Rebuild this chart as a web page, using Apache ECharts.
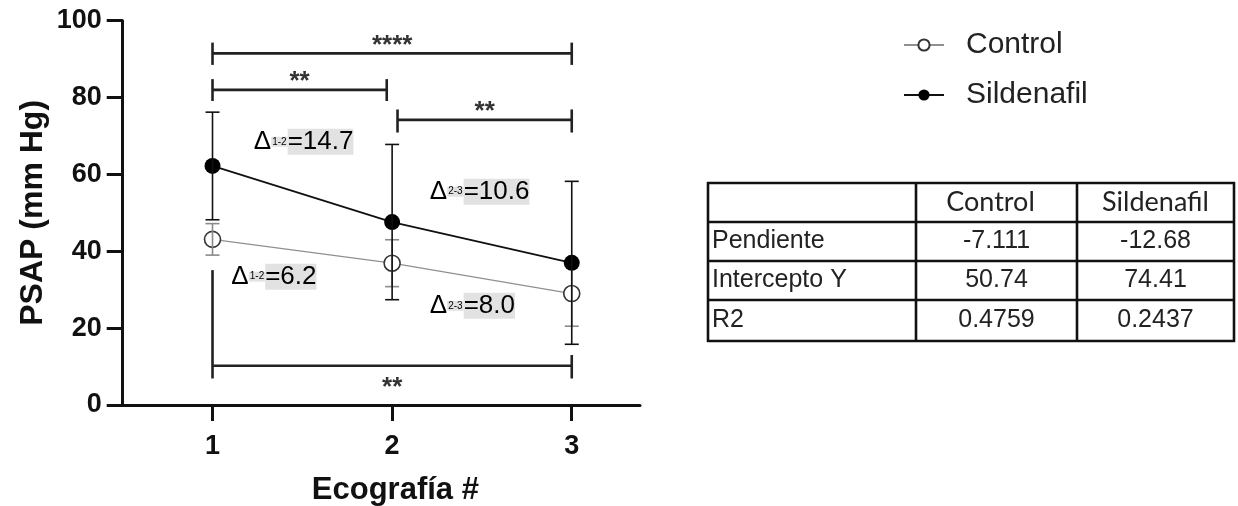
<!DOCTYPE html>
<html>
<head>
<meta charset="utf-8">
<script src="https://cdn.jsdelivr.net/npm/echarts@6/dist/echarts.min.js"></script>
<style>html,body{margin:0;padding:0;background:#fff;}#chart{width:1238px;height:506px;}</style>
</head>
<body>
<div id="chart"></div>
<script>
// ---- data ----
const visits = [1, 2, 3];
const xTickLabels = ['1', '2', '3'];
const yTicks = [0, 20, 40, 60, 80, 100];
const controlMean = [43.1, 36.9, 29.0];
const controlSD = [4.1, 6.1, 8.5];
const sildenafilMean = [62.2, 47.6, 37.0];
const sildenafilSD = [14.0, 20.2, 21.2];

// significance brackets (data units)
const bracketLabels = ['****', '**', '**', '**'];
const bracketFrom = [1, 1, 2.03, 1];
const bracketTo = [3, 1.97, 3, 3];
const bracketLevel = [91.5, 82.0, 74.2, 10.2];
const bracketLeftSpan = [[94.3, 88.5], [84.8, 79.1], [76.9, 70.9], [35.1, 6.9]];
const bracketRightSpan = [[94.3, 88.5], [84.8, 79.1], [76.9, 70.9], [13.0, 6.9]];

// delta annotations
const deltaSubs = ['1-2', '2-3', '1-2', '2-3'];
const deltaValues = ['14.7', '10.6', '6.2', '8.0'];
const deltaAnchorX = [1.23, 2.21, 1.105, 2.21];
const deltaAnchorY = [68.5, 55.5, 33.4, 25.8];

// regression table
const tableHeader = ['', 'Control', 'Sildenafil'];
const tableRowNames = ['Pendiente', 'Intercepto Y', 'R2'];
const tableControl = ['-7.111', '50.74', '0.4759'];
const tableSildenafil = ['-12.68', '74.41', '0.2437'];

// ---- chart ----
const FONT = 'Liberation Sans';
const chart = echarts.init(document.getElementById('chart'), null, {renderer: 'canvas'});

function errorBars(name, means, sds, color, z) {
  return {
    type: 'custom', name: name + ' SD', z: z, silent: true,
    data: visits.map((x, i) => [x, means[i] - sds[i], means[i] + sds[i]]),
    renderItem: function (params, api) {
      const lo = api.coord([api.value(0), api.value(1)]);
      const hi = api.coord([api.value(0), api.value(2)]);
      const w = 7;
      const st = {stroke: color, lineWidth: 1.6};
      return {type: 'group', children: [
        {type: 'line', shape: {x1: lo[0], y1: lo[1], x2: hi[0], y2: hi[1]}, style: st},
        {type: 'line', shape: {x1: lo[0] - w, y1: lo[1], x2: lo[0] + w, y2: lo[1]}, style: st},
        {type: 'line', shape: {x1: hi[0] - w, y1: hi[1], x2: hi[0] + w, y2: hi[1]}, style: st}
      ]};
    }
  };
}

const bracketData = bracketLabels.map((l, i) => [bracketFrom[i], bracketTo[i], bracketLevel[i],
  bracketLeftSpan[i][0], bracketLeftSpan[i][1], bracketRightSpan[i][0], bracketRightSpan[i][1], i]);

const deltaData = deltaSubs.map((s, i) => [deltaAnchorX[i], deltaAnchorY[i], i]);

// table graphic
const colX = [708, 916, 1077, 1234];
const rowY = [183, 222, 261, 300, 341];
const tableEls = [];
colX.forEach(x => tableEls.push({type: 'line', shape: {x1: x, y1: rowY[0] - 1, x2: x, y2: rowY[rowY.length - 1] + 1}, style: {stroke: '#111', lineWidth: 2.6}}));
rowY.forEach(y => tableEls.push({type: 'line', shape: {x1: colX[0] - 1, y1: y, x2: colX[colX.length - 1] + 1, y2: y}, style: {stroke: '#111', lineWidth: 2.6}}));
tableHeader.forEach((h, c) => {
  if (!h) return;
  tableEls.push({type: 'text', x: (colX[c] + colX[c + 1]) / 2 - (c === 1 ? 6 : 0), y: (rowY[0] + rowY[1]) / 2,
    style: {text: h, font: '27px Lato', fill: '#222', align: 'center', verticalAlign: 'middle'}});
});
tableRowNames.forEach((r, i) => {
  const cy = (rowY[i + 1] + rowY[i + 2]) / 2;
  tableEls.push({type: 'text', x: colX[0] + 4, y: cy, style: {text: r, font: '25px ' + FONT, fill: '#222', align: 'left', verticalAlign: 'middle'}});
  tableEls.push({type: 'text', x: (colX[1] + colX[2]) / 2, y: cy, style: {text: tableControl[i], font: '25px ' + FONT, fill: '#222', align: 'center', verticalAlign: 'middle'}});
  tableEls.push({type: 'text', x: (colX[2] + colX[3]) / 2, y: cy, style: {text: tableSildenafil[i], font: '25px ' + FONT, fill: '#222', align: 'center', verticalAlign: 'middle'}});
});

const option = {
  backgroundColor: '#fff',
  animation: false,
  textStyle: {fontFamily: FONT},
  legend: {
    orient: 'vertical', left: 898, top: 25, itemWidth: 40, itemHeight: 14, itemGap: 20,
    data: ['Control', 'Sildenafil'],
    textStyle: {fontSize: 30, fontFamily: FONT, color: '#222', lineHeight: 30, padding: [0, 0, 0, 17]}
  },
  grid: {left: 122.7, top: 20.7, right: 598, bottom: 101, containLabel: false, outerBoundsMode: 'none'},
  xAxis: {
    type: 'value', min: 0.5, max: 3.38,
    name: 'Ecografía #', nameLocation: 'middle', nameGap: 70,
    nameTextStyle: {fontSize: 31, fontWeight: 'bold', color: '#111', fontFamily: FONT, padding: [0, 0, 0, 28]},
    axisLine: {show: true, lineStyle: {color: '#111', width: 3}},
    axisTick: {show: true, customValues: visits, length: 16, lineStyle: {color: '#111', width: 3}},
    axisLabel: {customValues: visits, formatter: v => xTickLabels[visits.indexOf(v)], fontSize: 27, fontWeight: 'bold', color: '#111', margin: 28, fontFamily: FONT},
    splitLine: {show: false}
  },
  yAxis: {
    type: 'value', min: 0, max: 100, interval: 20,
    name: 'PSAP (mm Hg)', nameLocation: 'middle', nameGap: 74, nameRotate: 90,
    nameTextStyle: {fontSize: 32, fontWeight: 'bold', color: '#111', fontFamily: FONT},
    axisLine: {show: true, lineStyle: {color: '#111', width: 3}},
    axisTick: {show: true, length: 16, lineStyle: {color: '#111', width: 3}},
    axisLabel: {fontSize: 27, fontWeight: 'bold', color: '#111', margin: 21, fontFamily: FONT,
      formatter: v => (yTicks.indexOf(v) >= 0 ? String(v) : '')},
    splitLine: {show: false}
  },
  series: [
    {
      name: 'Control', type: 'line', z: 2,
      data: visits.map((x, i) => [x, controlMean[i]]),
      symbol: 'circle', symbolSize: 16,
      lineStyle: {color: '#909090', width: 1.2},
      itemStyle: {color: '#fff', borderColor: '#333', borderWidth: 1.6}
    },
    errorBars('Control', controlMean, controlSD, '#8a8a8a', 3),
    {
      name: 'Sildenafil', type: 'line', z: 4,
      data: visits.map((x, i) => [x, sildenafilMean[i]]),
      symbol: 'circle', symbolSize: 16,
      lineStyle: {color: '#111', width: 1.8},
      itemStyle: {color: '#000', borderColor: '#000', borderWidth: 0}
    },
    errorBars('Sildenafil', sildenafilMean, sildenafilSD, '#111', 5),
    {
      type: 'custom', name: 'brackets', z: 6, silent: true,
      data: bracketData,
      renderItem: function (params, api) {
        const l1 = api.coord([api.value(0), api.value(2)]);
        const l2 = api.coord([api.value(1), api.value(2)]);
        const lt = api.coord([api.value(0), api.value(3)]);
        const lb = api.coord([api.value(0), api.value(4)]);
        const rt = api.coord([api.value(1), api.value(5)]);
        const rb = api.coord([api.value(1), api.value(6)]);
        const idx = api.value(7);
        const below = api.value(2) < 50;
        const st = {stroke: '#222', lineWidth: 2.6};
        const fs = 26;
        return {type: 'group', children: [
          {type: 'line', shape: {x1: l1[0], y1: l1[1], x2: l2[0], y2: l2[1]}, style: st},
          {type: 'line', shape: {x1: lt[0], y1: lt[1], x2: lb[0], y2: lb[1]}, style: st},
          {type: 'line', shape: {x1: rt[0], y1: rt[1], x2: rb[0], y2: rb[1]}, style: st},
          {type: 'text', x: (l1[0] + l2[0]) / 2, y: below ? l1[1] + 22 : l1[1] - 8,
            style: {text: bracketLabels[idx], font: 'bold ' + fs + 'px ' + FONT, fill: '#333', align: 'center', verticalAlign: 'middle'}}
        ]};
      }
    },
    {
      type: 'custom', name: 'deltas', z: 7, silent: true,
      data: deltaData,
      renderItem: function (params, api) {
        const p = api.coord([api.value(0), api.value(1)]);
        const i = api.value(2);
        return {type: 'text', x: p[0], y: p[1], style: {
          text: '{d|Δ}{s|' + deltaSubs[i] + '}{v|=' + deltaValues[i] + '}',
          align: 'left', verticalAlign: 'middle',
          rich: {
            d: {fontSize: 26, fontFamily: FONT, color: '#2a2a2a', lineHeight: 26},
            s: {fontSize: 10, fontFamily: FONT, color: '#2a2a2a', lineHeight: 26, backgroundColor: '#e2e2e2', padding: [0, 1, 0, 1]},
            v: {fontSize: 26, fontFamily: FONT, color: '#2a2a2a', lineHeight: 26, backgroundColor: '#e2e2e2'}
          }
        }};
      }
    }
  ],
  graphic: tableEls
};
chart.setOption(option);
</script>
</body>
</html>
